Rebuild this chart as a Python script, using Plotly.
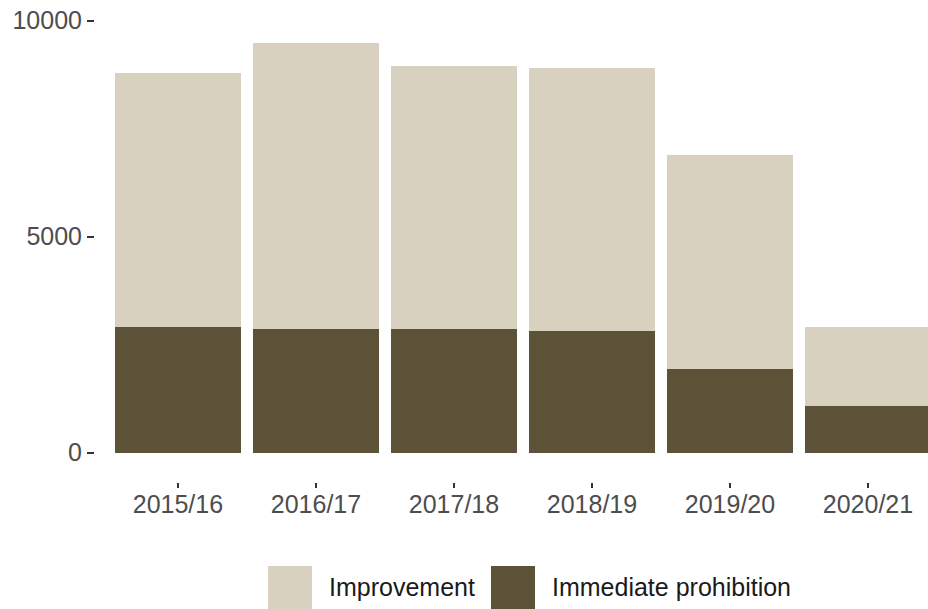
import plotly.graph_objects as go

years = ['2015/16', '2016/17', '2017/18', '2018/19', '2019/20', '2020/21']
immediate_prohibition = [2910, 2865, 2865, 2820, 1935, 1085]
improvement = [5870, 6610, 6090, 6090, 4960, 1830]

light = '#D9D1C0'
dark = '#5C5238'
font_family = 'Liberation Sans, Arial, sans-serif'

fig = go.Figure()
fig.add_trace(go.Bar(x=years, y=immediate_prohibition, name='Immediate prohibition',
                     marker=dict(color=dark, line=dict(width=0))))
fig.add_trace(go.Bar(x=years, y=improvement, name='Improvement',
                     marker=dict(color=light, line=dict(width=0))))

# legend drawn by hand so the keys can be as big as in the reference
W, H = 928, 609
ml, mr, mt, mb = 95, 0, 15, 127
pw, ph = W - ml - mr, H - mt - mb

def px_x(px):
    return (px - ml) / pw

def px_y(py):
    return (H - mb - py) / ph

legend_items = [('Improvement', light, 268, 327), ('Immediate prohibition', dark, 491, 550)]
for label, col, kx, tx in legend_items:
    fig.add_shape(type='rect', xref='paper', yref='paper',
                  x0=px_x(kx), x1=px_x(kx + 44), y0=px_y(566), y1=px_y(611),
                  fillcolor=col, line=dict(width=0))
    fig.add_annotation(text=label, xref='paper', yref='paper',
                       x=px_x(tx), y=px_y(587), xanchor='left', yanchor='middle',
                       showarrow=False, font=dict(size=25, color='#1a1a1a', family=font_family))

fig.update_layout(
    barmode='stack',
    bargap=0.09,
    width=W, height=H,
    margin=dict(l=ml, r=mr, t=mt, b=mb, autoexpand=False),
    plot_bgcolor='white',
    paper_bgcolor='white',
    showlegend=False,
    font=dict(family=font_family, size=25, color='#4D4D4D'),
)
fig.update_xaxes(range=[-0.601, 5.435], showgrid=False, zeroline=False, showline=False,
                 automargin=False, ticklabelstandoff=-5,
                 ticks='outside', ticklen=5, tickwidth=1.5, tickcolor='#333333')
fig.update_yaxes(range=[-683, 10128], tickvals=[0, 5000, 10000], ticktext=['0', '5000', '10000'],
                 showgrid=False, zeroline=False, showline=False, automargin=False,
                 ticks='outside', ticklen=7, tickwidth=1.5, tickcolor='#333333')

# the page body has a default 8px margin, drop it so the figure sits at the corner
fig.write_html('out.html', config={'displayModeBar': False},
               post_script="document.body.style.margin='0';document.body.style.overflow='hidden';")
